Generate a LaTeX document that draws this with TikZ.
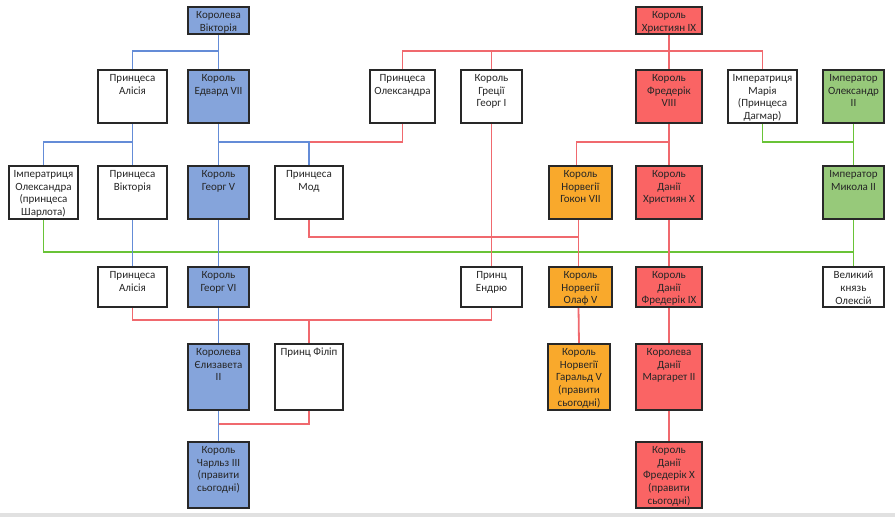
\documentclass[tikz,border=0pt]{standalone}
\usepackage{fontspec}
\setmainfont{Carlito}
\usetikzlibrary{calc,backgrounds}
\definecolor{fblue}{RGB}{133,164,219}
\definecolor{fred}{RGB}{250,100,100}
\definecolor{forange}{RGB}{249,169,44}
\definecolor{fgreen}{RGB}{151,201,122}
\definecolor{lblue}{RGB}{100,140,215}
\definecolor{lred}{RGB}{240,105,110}
\definecolor{lgreen}{RGB}{105,195,55}
\definecolor{bord}{RGB}{40,40,40}
\definecolor{barg}{RGB}{225,225,225}
\tikzset{
  famb/.style={draw=bord,line width=1.4pt,rectangle,inner sep=0pt,outer sep=0pt},
  famt/.style={anchor=north,align=center,inner sep=0pt,yshift=-4pt,
    font=\fontsize{11}{12.8}\selectfont,text=black!85},
  bl/.style={draw=lblue,line width=1.8pt},
  rl/.style={draw=lred,line width=1.8pt},
  gl/.style={draw=lgreen,line width=1.8pt}
}
\newcommand\famnode[7]{%
  \pgfmathsetmacro\famw{#5-#3}\pgfmathsetmacro\famh{#6-#4}%
  \node[famb,fill=#2,minimum width=\famw pt,minimum height=\famh pt,
    label={[famt]north:{#7}}] (#1) at ({(#3+#5)/2},{(#4+#6)/2}) {};}
\begin{document}
\begin{tikzpicture}[x=1pt,y=-1pt]
\useasboundingbox (0,0) rectangle (895,517);
\fill[barg] (0,513) rectangle (895,517);
% nodes
\famnode{vic}{fblue}{188}{7}{249}{34}{Королева\\Вікторія}
\famnode{chr9}{fred}{636}{7}{702}{34}{Король\\Християн IX}
\famnode{alis1}{white}{98}{70}{167}{123}{Принцеса\\Алісія}
\famnode{edw}{fblue}{188}{70}{249}{123}{Король\\Едвард VII}
\famnode{olex}{white}{370}{70}{435}{123}{Принцеса\\Олександра}
\famnode{geo1}{white}{461}{70}{522}{123}{Король\\Греції\\Георг I}
\famnode{fr8}{fred}{636}{70}{702}{123}{Король\\Фредерік\\VIII}
\famnode{mar}{white}{728}{70}{797}{123}{Імператриця\\Марія\\(Принцеса\\Дагмар)}
\famnode{alx2}{fgreen}{823}{70}{884}{123}{Імператор\\Олександр\\II}
\famnode{alxa}{white}{9}{166}{78}{219}{Імператриця\\Олександра\\(принцеса\\Шарлота)}
\famnode{vict}{white}{98}{166}{167}{219}{Принцеса\\Вікторія}
\famnode{geo5}{fblue}{188}{166}{249}{219}{Король\\Георг V}
\famnode{maud}{white}{275}{166}{343}{219}{Принцеса\\Мод}
\famnode{hak}{forange}{549}{166}{612}{219}{Король\\Норвегії\\Гокон VII}
\famnode{chr10}{fred}{636}{166}{702}{219}{Король\\Данії\\Християн X}
\famnode{nik}{fgreen}{823}{166}{884}{219}{Імператор\\Микола II}
\famnode{alis2}{white}{98}{267}{167}{307}{Принцеса\\Алісія}
\famnode{geo6}{fblue}{188}{267}{249}{307}{Король\\Георг VI}
\famnode{andr}{white}{461}{267}{522}{307}{Принц\\Ендрю}
\famnode{olaf}{forange}{549}{267}{612}{307}{Король\\Норвегії\\Олаф V}
\famnode{fr9}{fred}{636}{267}{702}{307}{Король\\Данії\\Фредерік IX}
\famnode{alexei}{white}{823}{267}{884}{307}{Великий\\князь\\Олексій}
\famnode{eliz}{fblue}{188}{344}{249}{410}{Королева\\Єлизавета\\II}
\famnode{phil}{white}{275}{344}{343}{410}{Принц Філіп}
\famnode{har}{forange}{548}{344}{610}{410}{Король\\Норвегії\\Гаральд V\\(правити\\сьогодні)}
\famnode{marg}{fred}{636}{344}{702}{410}{Королева\\Данії\\Маргарет II}
\famnode{char}{fblue}{188}{442}{249}{508}{Король\\Чарльз III\\(правити\\сьогодні)}
\famnode{fr10}{fred}{636}{442}{702}{508}{Король\\Данії\\Фредерік X\\(правити\\сьогодні)}
\coordinate (mj) at ($(maud.north)+(0,-24)$);
% connectors behind the boxes
\begin{scope}[on background layer]
% green
\draw[gl] (mar.south) -- ++(0,19) -| (alx2.south);
\draw[gl] (alx2.south) -- (nik.north);
\draw[gl] (nik.south) -- (alexei.north);
\draw[gl] (alxa.south) -- ++(0,33) -| (nik.south);
% red
\draw[rl] (chr9.south) -- (fr8.north);
\draw[rl] (chr9.south) -- ++(0,17) -| (olex.north);
\draw[rl] (chr9.south) -- ++(0,17) -| (geo1.north);
\draw[rl] (chr9.south) -- ++(0,17) -| (mar.north);
\draw[rl] (olex.south) |- (mj);
\draw[rl] (geo1.south) -- (andr.north);
\draw[rl] (fr8.south) -- (chr10.north);
\draw[rl] (fr8.south) -- ++(0,19) -| ([xshift=-4pt]hak.north);
\draw[rl] (maud.south) -- ++(0,18) -| ([xshift=-2pt]olaf.north);
\draw[rl] ([xshift=-2pt]hak.south) -- ([xshift=-2pt]olaf.north);
\draw[rl] (chr10.south) -- (fr9.north);
\draw[rl] ([xshift=-2pt]olaf.south) -- (har.north);
\draw[rl] (fr9.south) -- (marg.north);
\draw[rl] (marg.south) -- (fr10.north);
\draw[rl] (alis2.south) -- ++(0,13) -| (andr.south);
\draw[rl] (alis2.south) -- ++(0,13) -| (phil.north);
\draw[rl] (phil.south) -- ++(0,14) -| (char.north);
% blue
\draw[bl] (vic.south) -- (edw.north);
\draw[bl] (vic.south) -- ++(0,17) -| (alis1.north);
\draw[bl] (alis1.south) -- ++(0,19) -| (alxa.north);
\draw[bl] (alis1.south) -- (vict.north);
\draw[bl] (edw.south) -- (geo5.north);
\draw[bl] (edw.south) -- ++(0,19) -| (maud.north);
\draw[bl] (vict.south) -- (alis2.north);
\draw[bl] (geo5.south) -- (geo6.north);
\draw[bl] (geo6.south) -- (eliz.north);
\draw[bl] (eliz.south) -- (char.north);
\end{scope}
\end{tikzpicture}
\end{document}
